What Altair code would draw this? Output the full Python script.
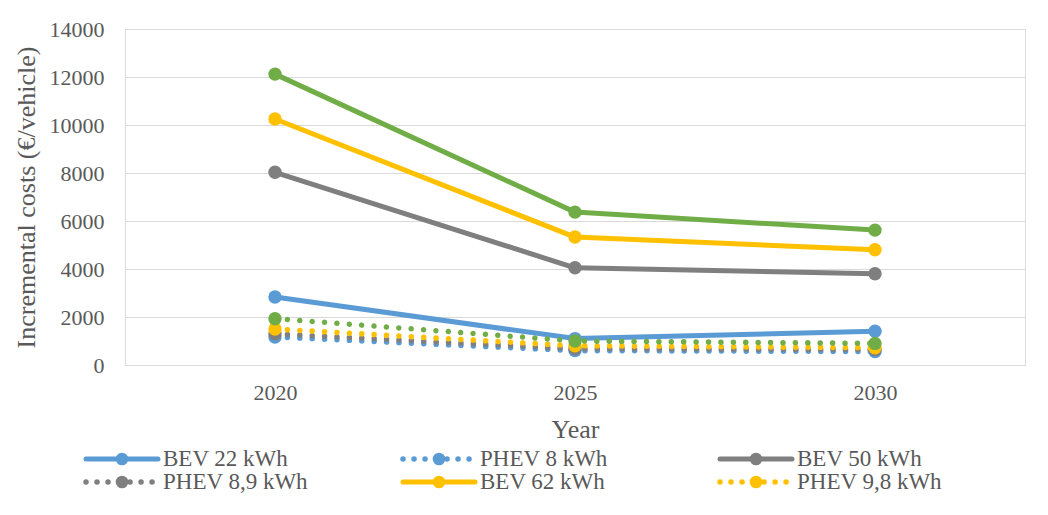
import altair as alt
import pandas as pd

# ---- data ----
years = ["2020", "2025", "2030"]
series_names = ["BEV 22 kWh", "PHEV 8 kWh", "BEV 50 kWh", "PHEV 8,9 kWh",
                "BEV 62 kWh", "PHEV 9,8 kWh", "BEV (green)", "PHEV (green)"]
series_colors = ["#5B9BD5", "#5B9BD5", "#7F7F7F", "#7F7F7F",
                 "#FFC000", "#FFC000", "#70AD47", "#70AD47"]
series_dotted = [False, True, False, True, False, True, False, True]
bev22 = [2830, 1100, 1410]
phev8 = [1170, 600, 560]
bev50 = [8030, 4050, 3800]
phev89 = [1300, 680, 640]
bev62 = [10250, 5330, 4800]
phev98 = [1500, 800, 720]
bev_green = [12120, 6370, 5620]
phev_green = [1930, 1000, 900]
series_values = [bev22, phev8, bev50, phev89, bev62, phev98, bev_green, phev_green]
legend_count = 6  # only the first six series appear in the legend
y_ticks = [0, 2000, 4000, 6000, 8000, 10000, 12000, 14000]

FONT = "Liberation Serif"
TEXT = "#595959"
GRID = "#D9D9D9"

xscale = alt.Scale(type="point", domain=years, padding=0.5)
yscale = alt.Scale(domain=[0, 14000])
xaxis = alt.Axis(title="Year", domain=True, domainColor=GRID, domainWidth=1,
                 ticks=False, grid=False, labelAngle=0, labelFont=FONT,
                 labelFontSize=22, labelColor=TEXT, labelPadding=17,
                 titleFont=FONT, titleFontSize=26, titleColor=TEXT,
                 titleFontWeight="normal", titlePadding=13)
yaxis = alt.Axis(values=y_ticks, format="d", title="Incremental costs (€/vehicle)",
                 domain=False, ticks=False, grid=True, gridColor=GRID, gridWidth=1,
                 labelFont=FONT, labelFontSize=22, labelColor=TEXT, labelPadding=21,
                 titleFont=FONT, titleFontSize=26, titleColor=TEXT,
                 titleFontWeight="normal", titlePadding=10)

main_layers = []
for name, vals, color, dotted in zip(series_names, series_values, series_colors, series_dotted):
    df = pd.DataFrame({"Year": years, "cost": vals, "series": name})
    base = alt.Chart(df).encode(
        x=alt.X("Year:N", scale=xscale, axis=xaxis),
        y=alt.Y("cost:Q", scale=yscale, axis=yaxis),
    )
    if dotted:
        ln = base.mark_line(color=color, strokeWidth=5.5, strokeCap="round",
                            strokeDash=[0.01, 12.4])
    else:
        ln = base.mark_line(color=color, strokeWidth=5, strokeCap="round",
                            strokeJoin="round")
    pt = base.mark_point(filled=True, size=180, color=color, opacity=1, shape="circle")
    main_layers += [ln, pt]
main = alt.layer(*main_layers)

# ---- legend built from the series names ----
leg_layers = []
lx = alt.X("col:Q", scale=alt.Scale(domain=[0, 2], range=[0, 634]), axis=None)
ly = alt.Y("row:Q", scale=alt.Scale(domain=[0, 1], range=[430, 453]), axis=None)
for i in range(legend_count):
    d = pd.DataFrame({"name": [series_names[i]], "col": [i % 3], "row": [i // 3]})
    color = series_colors[i]
    b = alt.Chart(d).encode(x=lx, y=ly)
    if series_dotted[i]:
        r = b.mark_rule(color=color, strokeWidth=5.5, strokeCap="round",
                        strokeDash=[0.01, 11], xOffset=-39, x2Offset=33).encode(x2="col:Q")
    else:
        r = b.mark_rule(color=color, strokeWidth=5, strokeCap="round",
                        xOffset=-39, x2Offset=33).encode(x2="col:Q")
    p = b.mark_point(filled=True, size=160, color=color, opacity=1, shape="circle", xOffset=-3)
    t = b.mark_text(align="left", baseline="middle", xOffset=38, font=FONT,
                    fontSize=23, color=TEXT).encode(text="name:N")
    leg_layers += [r, p, t]
legend = alt.layer(*leg_layers)

chart = alt.layer(main, legend).resolve_scale(x="independent", y="independent").properties(
    width=900, height=336,
    padding={"left": 5, "top": 10, "right": 5, "bottom": 5},
).configure_view(stroke=None).configure(background="white")

chart.save("out.html", embed_options={"renderer": "svg", "actions": False})
